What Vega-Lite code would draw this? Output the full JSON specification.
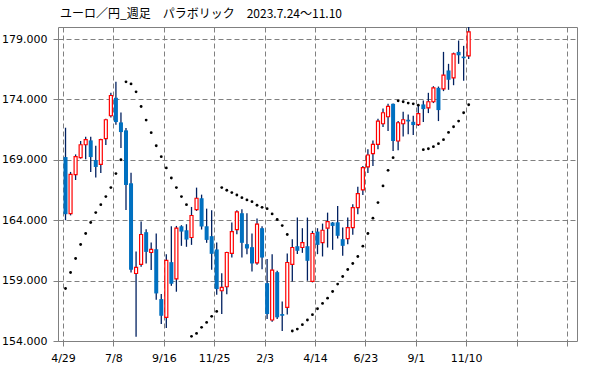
{
  "$schema": "https://vega.github.io/schema/vega-lite/v6.json",
  "width": 519,
  "height": 314,
  "autosize": "none",
  "padding": {"left": 58, "top": 27, "right": 22, "bottom": 28},
  "background": "white",
  "title": {"text": "ユーロ／円_週足　パラボリック　2023.7.24～11.10", "anchor": "start", "frame": "group", "font": "Noto Sans CJK JP", "fontSize": 12, "fontWeight": "normal", "color": "black", "offset": 6, "dx": 2},
  "config": {
    "view": {"stroke": "#808080", "strokeWidth": 1},
    "axis": {"labelFont": "DejaVu Sans", "labelFontSize": 11, "labelColor": "black", "grid": true, "gridColor": "#808080", "gridDash": [5, 3], "gridWidth": 1, "gridOpacity": 1, "tickColor": "#808080", "tickDash": [5, 3], "tickSize": 5, "domain": false, "title": null, "labelFlush": false, "labelOverlap": false}
  },
  "data": {"values": [
    {"i":0,"o":169.23,"h":171.66,"l":164.0,"c":164.5,"s":158.35},
    {"i":1,"o":164.55,"h":168.0,"l":164.4,"c":167.8,"s":159.67},
    {"i":2,"o":167.77,"h":169.45,"l":167.33,"c":169.26,"s":160.83},
    {"i":3,"o":169.18,"h":170.56,"l":169.1,"c":170.25,"s":161.99},
    {"i":4,"o":170.25,"h":170.91,"l":169.04,"c":170.67,"s":162.9},
    {"i":5,"o":170.61,"h":170.91,"l":168.0,"c":169.23,"s":163.81},
    {"i":6,"o":168.99,"h":170.17,"l":167.53,"c":168.41,"s":164.63},
    {"i":7,"o":168.63,"h":170.75,"l":167.91,"c":170.67,"s":165.29},
    {"i":8,"o":170.75,"h":172.4,"l":170.23,"c":172.32,"s":165.96},
    {"i":9,"o":172.65,"h":174.55,"l":172.5,"c":174.33,"s":166.7},
    {"i":10,"o":174.14,"h":175.46,"l":171.9,"c":172.13,"s":167.86},
    {"i":11,"o":172.1,"h":172.93,"l":169.98,"c":171.3,"s":169.01},
    {"i":12,"o":171.44,"h":171.63,"l":164.85,"c":166.92,"s":175.46},
    {"i":13,"o":167.06,"h":167.94,"l":159.67,"c":159.9,"s":175.29},
    {"i":14,"o":159.59,"h":161.41,"l":154.36,"c":160.09,"s":174.63},
    {"i":15,"o":160.34,"h":163.89,"l":160.14,"c":162.82,"s":173.42},
    {"i":16,"o":163.01,"h":163.26,"l":160.42,"c":161.38,"s":172.29},
    {"i":17,"o":161.33,"h":162.15,"l":159.87,"c":161.58,"s":171.25},
    {"i":18,"o":161.6,"h":162.9,"l":157.42,"c":157.94,"s":170.17},
    {"i":19,"o":157.47,"h":157.9,"l":155.4,"c":156.09,"s":169.26},
    {"i":20,"o":155.96,"h":161.19,"l":155.07,"c":160.67,"s":168.33},
    {"i":21,"o":160.53,"h":163.5,"l":158.57,"c":158.74,"s":167.5},
    {"i":22,"o":159.15,"h":163.53,"l":158.08,"c":163.34,"s":166.7},
    {"i":23,"o":163.5,"h":163.59,"l":161.88,"c":163.06,"s":165.96},
    {"i":24,"o":163.17,"h":163.67,"l":161.8,"c":162.4,"s":165.29},
    {"i":25,"o":162.57,"h":165.1,"l":161.96,"c":164.39,"s":154.39},
    {"i":26,"o":164.88,"h":166.7,"l":164.77,"c":165.82,"s":154.63},
    {"i":27,"o":165.82,"h":166.12,"l":163.23,"c":163.48,"s":155.13},
    {"i":28,"o":163.5,"h":164.96,"l":162.13,"c":162.37,"s":155.54},
    {"i":29,"o":162.68,"h":164.83,"l":159.9,"c":161.22,"s":156.04},
    {"i":30,"o":161.58,"h":162.15,"l":157.83,"c":158.3,"s":156.45},
    {"i":31,"o":158.16,"h":159.62,"l":156.23,"c":158.44,"s":166.7},
    {"i":32,"o":158.49,"h":161.4,"l":157.88,"c":161.33,"s":166.48},
    {"i":33,"o":161.25,"h":163.81,"l":160.91,"c":163.06,"s":166.29},
    {"i":34,"o":163.23,"h":164.83,"l":162.84,"c":164.69,"s":166.09},
    {"i":35,"o":164.58,"h":164.91,"l":160.91,"c":162.13,"s":165.87},
    {"i":36,"o":162.02,"h":164.58,"l":161.19,"c":161.66,"s":165.68},
    {"i":37,"o":161.77,"h":162.9,"l":159.76,"c":160.42,"s":165.54},
    {"i":38,"o":160.47,"h":164.14,"l":160.31,"c":163.67,"s":165.24},
    {"i":39,"o":163.34,"h":163.5,"l":159.95,"c":160.91,"s":165.07},
    {"i":40,"o":158.79,"h":160.78,"l":155.82,"c":156.23,"s":164.96},
    {"i":41,"o":155.74,"h":161.19,"l":155.6,"c":159.87,"s":164.52},
    {"i":42,"o":159.7,"h":159.81,"l":155.82,"c":155.96,"s":164.06},
    {"i":43,"o":156.23,"h":157.28,"l":154.83,"c":156.09,"s":163.56},
    {"i":44,"o":156.78,"h":161.25,"l":156.2,"c":160.5,"s":162.82},
    {"i":45,"o":160.34,"h":162.43,"l":158.93,"c":161.74,"s":154.83},
    {"i":46,"o":161.85,"h":164.22,"l":161.2,"c":161.47,"s":154.99},
    {"i":47,"o":161.74,"h":163.34,"l":161.3,"c":162.15,"s":155.35},
    {"i":48,"o":161.85,"h":164.22,"l":158.99,"c":160.64,"s":155.74},
    {"i":49,"o":158.93,"h":163.12,"l":158.85,"c":162.9,"s":156.18},
    {"i":50,"o":163.06,"h":163.34,"l":161.19,"c":161.96,"s":156.67},
    {"i":51,"o":162.15,"h":163.72,"l":161.0,"c":163.17,"s":157.11},
    {"i":52,"o":163.34,"h":164.63,"l":161.74,"c":163.89,"s":157.55},
    {"i":53,"o":163.81,"h":163.85,"l":161.55,"c":163.53,"s":158.1},
    {"i":54,"o":163.83,"h":165.18,"l":162.48,"c":162.71,"s":158.71},
    {"i":55,"o":162.43,"h":163.39,"l":161.05,"c":161.88,"s":159.34},
    {"i":56,"o":162.48,"h":164.22,"l":162.02,"c":163.39,"s":159.92},
    {"i":57,"o":163.39,"h":165.32,"l":162.79,"c":165.05,"s":160.42},
    {"i":58,"o":165.05,"h":166.78,"l":164.5,"c":166.2,"s":161.0},
    {"i":59,"o":166.51,"h":168.49,"l":166.09,"c":168.35,"s":161.85},
    {"i":60,"o":168.41,"h":169.87,"l":167.91,"c":169.4,"s":162.9},
    {"i":61,"o":169.51,"h":170.61,"l":168.49,"c":170.28,"s":164.17},
    {"i":62,"o":170.28,"h":172.4,"l":169.87,"c":172.21,"s":165.46},
    {"i":63,"o":171.99,"h":173.26,"l":171.71,"c":172.9,"s":166.84},
    {"i":64,"o":172.57,"h":173.64,"l":171.38,"c":173.42,"s":168.13},
    {"i":65,"o":173.64,"h":173.67,"l":169.73,"c":170.56,"s":169.18},
    {"i":66,"o":170.56,"h":172.21,"l":169.79,"c":172.07,"s":173.89},
    {"i":67,"o":171.99,"h":172.98,"l":170.94,"c":172.32,"s":173.81},
    {"i":68,"o":172.32,"h":172.76,"l":171.11,"c":172.18,"s":173.7},
    {"i":69,"o":172.15,"h":172.65,"l":171.05,"c":171.88,"s":173.64},
    {"i":70,"o":171.91,"h":173.5,"l":171.8,"c":172.82,"s":173.53},
    {"i":71,"o":173.59,"h":173.92,"l":172.13,"c":173.2,"s":169.84},
    {"i":72,"o":173.31,"h":174.55,"l":172.87,"c":173.81,"s":169.92},
    {"i":73,"o":173.81,"h":175.1,"l":173.7,"c":174.96,"s":170.09},
    {"i":74,"o":174.96,"h":175.07,"l":172.21,"c":173.12,"s":170.34},
    {"i":75,"o":174.88,"h":177.94,"l":174.69,"c":176.01,"s":170.67},
    {"i":76,"o":176.4,"h":176.95,"l":174.8,"c":175.63,"s":171.27},
    {"i":77,"o":175.79,"h":177.88,"l":175.18,"c":177.77,"s":171.74},
    {"i":78,"o":177.94,"h":178.88,"l":176.95,"c":177.66,"s":172.21},
    {"i":79,"o":177.55,"h":178.44,"l":175.55,"c":177.42,"s":172.9},
    {"i":80,"o":177.61,"h":180.3,"l":177.36,"c":179.59,"s":173.56}
  ]},
  "encoding": {
    "x": {"field": "i", "type": "quantitative", "scale": {"domain": [-0.5, 100.5], "nice": false, "zero": false},
      "axis": {"values": [-0.5, 9.5, 19.5, 29.5, 39.5, 49.5, 59.5, 69.5, 79.5, 89.5, 99.5], "labelPadding": 6,
        "labelExpr": "['4/29','7/8','9/16','11/25','2/3','4/14','6/23','9/1','11/10','',''][round((datum.value+0.5)/10)]"}}
  },
  "layer": [
    {"mark": {"type": "rule", "color": "#002060", "strokeWidth": 1.3, "clip": true},
     "encoding": {
       "y": {"field": "l", "type": "quantitative", "scale": {"domain": [154, 180], "nice": false, "zero": false},
         "axis": {"values": [154, 159, 164, 169, 174, 179], "format": ".3f", "labelPadding": 6}},
       "y2": {"field": "h"}}},
    {"transform": [{"filter": "datum.c < datum.o"}],
     "mark": {"type": "bar", "size": 4, "color": "#0070C0", "clip": true},
     "encoding": {"y": {"field": "o", "type": "quantitative"}, "y2": {"field": "c"}}},
    {"transform": [{"filter": "datum.c >= datum.o"}],
     "mark": {"type": "bar", "size": 3, "fill": "white", "stroke": "#FF0000", "strokeWidth": 1.2, "clip": true},
     "encoding": {"y": {"field": "o", "type": "quantitative"}, "y2": {"field": "c"}}},
    {"mark": {"type": "point", "shape": "circle", "filled": true, "color": "black", "size": 8, "opacity": 1},
     "encoding": {"y": {"field": "s", "type": "quantitative"}}}
  ]
}
